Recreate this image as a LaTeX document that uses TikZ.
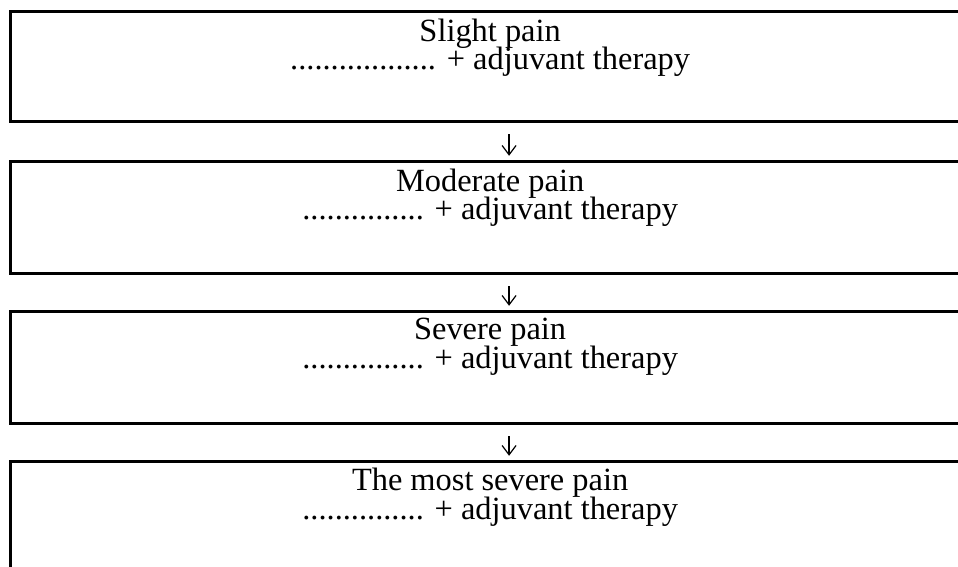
\documentclass[tikz,border=0pt]{standalone}
\usepackage{fontspec}
\setmainfont{Liberation Serif}
\usetikzlibrary{arrows.meta,positioning}
\setlength{\lineskiplimit}{-20pt}

\begin{document}
\begin{tikzpicture}[
    painbox/.style={draw=black, line width=2.4pt, rectangle, minimum width=25.39cm, inner sep=0pt},
    paintext/.style={font=\fontsize{24.4}{21.5}\selectfont, align=center, inner sep=0pt},
    painarrow/.style={line width=0.9pt, -{Straight Barb[length=7pt, width=10.5pt, line width=0.9pt]}}
  ]
  % Frame
  \useasboundingbox (0,0) rectangle (25.35,14.98);
  \clip (0,0) rectangle (25.35,14.98);

  % Boxes
  \node[painbox, minimum height=2.910cm] (slight) at (12.97,13.229) {};
  \node[painbox, minimum height=2.963cm] (moderate) at (12.97,9.234) {};
  \node[painbox, minimum height=2.963cm] (severe) at (12.97,5.265) {};
  \node[painbox, minimum height=2.963cm] (mostsevere) at (12.97,1.296) {};

  % Texts
  \node[paintext, below=0.23cm of slight.north] (slighttxt) {Slight pain\\.................. + adjuvant therapy};
  \node[paintext, below=0.23cm of moderate.north] (moderatetxt) {Moderate pain\\............... + adjuvant therapy};
  \node[paintext, below=0.23cm of severe.north] (severetxt) {Severe pain\\............... + adjuvant therapy};
  \node[paintext, below=0.23cm of mostsevere.north] (mostseveretxt) {The most severe pain\\............... + adjuvant therapy};

  % Arrows
  \draw[painarrow] ([xshift=0.50cm, yshift=-0.30cm]slight.south) -- ([xshift=0.50cm, yshift=0.1cm]moderate.north);
  \draw[painarrow] ([xshift=0.50cm, yshift=-0.30cm]moderate.south) -- ([xshift=0.50cm, yshift=0.1cm]severe.north);
  \draw[painarrow] ([xshift=0.50cm, yshift=-0.30cm]severe.south) -- ([xshift=0.50cm, yshift=0.1cm]mostsevere.north);
\end{tikzpicture}
\end{document}
